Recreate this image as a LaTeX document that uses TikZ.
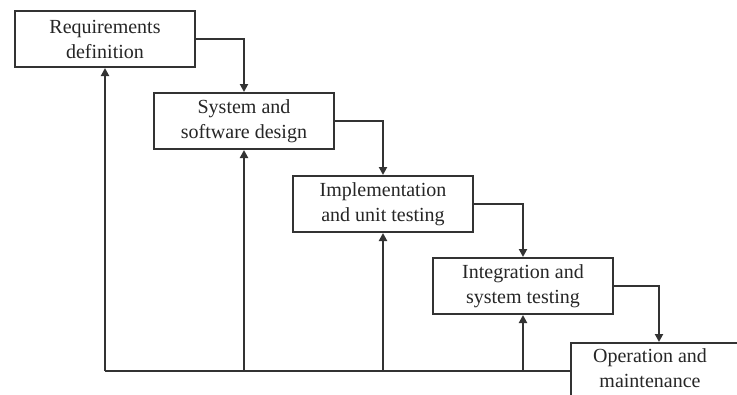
\documentclass[tikz,border=0pt]{standalone}
\usepackage{fontspec}
\setmainfont{Liberation Serif}
\usetikzlibrary{arrows.meta}
\begin{document}
\begin{tikzpicture}[x=1pt,y=-1pt,
  stagetext/.style={font=\fontsize{20}{25}\selectfont, align=center, text=black!85},
  stage/.style={stagetext, draw=black!80, line width=2pt, fill=white,
    minimum width=180pt, minimum height=56pt, inner sep=1pt},
  link/.style={draw=black!80, line width=2pt},
  flow/.style={link, -{Triangle[length=8pt,width=8pt]}},
  ]
\useasboundingbox (0,0) rectangle (737,394);
\fill[white] (0,0) rectangle (737,394);
\begin{scope}
\clip (0,0) rectangle (737,394);

% the five phases, stepping down to the right
\node[stage] (req)   at (105,39)  {Requirements\\definition};
\node[stage] (sys)   at (244,121) {System and\\software design};
\node[stage] (impl)  at (383,204) {Implementation\\and unit testing};
\node[stage] (integ) at (523,286) {Integration and\\system testing};
\node[stage, minimum width=176pt, anchor=north west] (op) at (570,342) {};
\node[stagetext] (optext) at (650,368) {Operation and\\maintenance};

% forward flow between phases
\draw[flow] (req.east)   -| (sys.north);
\draw[flow] (sys.east)   -| (impl.north);
\draw[flow] (impl.east)  -| (integ.north);
\draw[flow] (integ.east) -| (op.north);

% feedback rail back to every earlier phase
\coordinate (fb) at (0,371);
\draw[link] (op.west |- fb) -- (req.south |- fb);
\draw[flow] (req.south |- fb)   -- (req.south);
\draw[flow] (sys.south |- fb)   -- (sys.south);
\draw[flow] (impl.south |- fb)  -- (impl.south);
\draw[flow] (integ.south |- fb) -- (integ.south);
\end{scope}
\end{tikzpicture}
\end{document}
